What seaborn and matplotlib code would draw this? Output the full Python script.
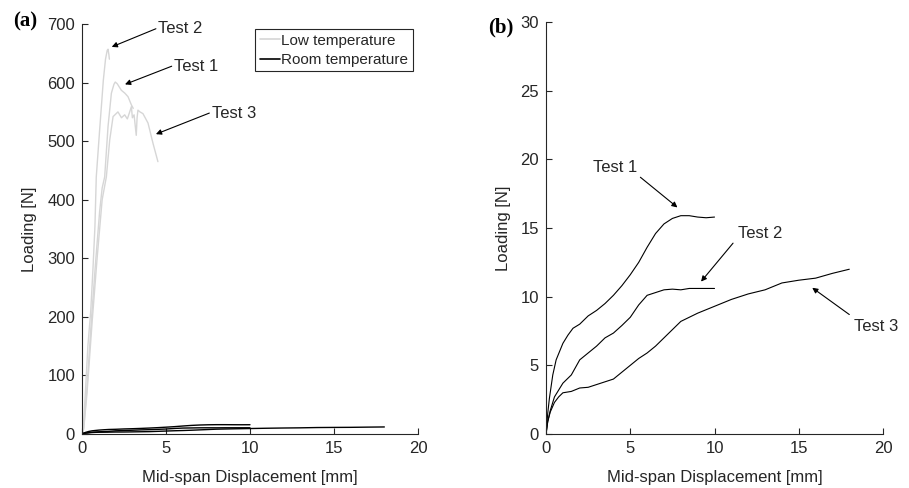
import numpy as np
import pandas as pd
import matplotlib
matplotlib.use("Agg")
import matplotlib.pyplot as plt
import seaborn as sns
from matplotlib.lines import Line2D

# Room temperature tests (displacement mm, load N)
room_t1_x = [0, 0.1, 0.2, 0.4, 0.6, 0.8, 1.0, 1.3, 1.6, 2.0, 2.5, 3.0, 3.5, 4.0, 4.5, 5.0, 5.5,
             6.0, 6.5, 7.0, 7.5, 8.0, 8.5, 9.0, 9.5, 10.0]
room_t1_y = [0, 1.5, 2.6, 4.3, 5.4, 6.0, 6.6, 7.2, 7.7, 8.0, 8.6, 9.0, 9.5, 10.1, 10.8, 11.6, 12.5,
             13.6, 14.6, 15.3, 15.7, 15.9, 15.9, 15.8, 15.75, 15.8]
room_t2_x = [0, 0.1, 0.25, 0.5, 0.75, 1.0, 1.5, 2.0, 2.5, 3.0, 3.5, 4.0, 4.5, 5.0, 5.5, 6.0, 6.5,
             7.0, 7.5, 8.0, 8.5, 9.0, 9.5, 10.0]
room_t2_y = [0, 0.9, 1.7, 2.7, 3.2, 3.7, 4.3, 5.4, 5.9, 6.4, 7.0, 7.35, 7.9, 8.5, 9.4, 10.1, 10.3,
             10.5, 10.55, 10.5, 10.6, 10.6, 10.6, 10.6]
room_t3_x = [0, 0.1, 0.25, 0.5, 0.75, 1.0, 1.5, 2.0, 2.5, 3.0, 3.5, 4.0, 4.5, 5.0, 5.5, 6.0, 6.5,
             7.0, 7.5, 8.0, 9.0, 10.0, 11.0, 12.0, 13.0, 14.0, 15.0, 16.0, 17.0, 18.0]
room_t3_y = [0, 0.9, 1.6, 2.3, 2.7, 3.0, 3.1, 3.35, 3.4, 3.6, 3.8, 4.0, 4.5, 5.0, 5.5, 5.9, 6.4,
             7.0, 7.6, 8.2, 8.8, 9.3, 9.8, 10.2, 10.5, 11.0, 11.2, 11.35, 11.7, 12.0]

# Low temperature tests
low_t1_x = [0, 0.1, 0.3, 0.55, 0.8, 1.05, 1.2, 1.35, 1.55, 1.75, 1.9, 1.98, 2.1, 2.34, 2.55, 2.74, 2.94, 3.05]
low_t1_y = [0, 10, 80, 190, 290, 380, 420, 439, 525, 582, 597, 601, 598, 587, 582, 576, 562, 556]
low_t2_x = [0, 0.08, 0.2, 0.35, 0.52, 0.65, 0.77, 0.85, 1.05, 1.27, 1.4, 1.5, 1.55, 1.6, 1.63]
low_t2_y = [0, 12, 70, 150, 210, 280, 354, 439, 519, 604, 640, 655, 657, 648, 640]
low_t3_x = [0, 0.1, 0.3, 0.6, 0.9, 1.2, 1.45, 1.65, 1.85, 2.14, 2.35, 2.54, 2.7, 2.84, 2.94, 3.0,
            3.1, 3.23, 3.28, 3.33, 3.45, 3.63, 3.93, 4.23, 4.52]
low_t3_y = [0, 8, 70, 190, 300, 400, 439, 502, 542, 550, 540, 545, 538, 550, 559, 540,
            545, 510, 540, 553, 550, 547, 531, 496, 465]

room = [(room_t1_x, room_t1_y), (room_t2_x, room_t2_y), (room_t3_x, room_t3_y)]
low = [(low_t1_x, low_t1_y), (low_t2_x, low_t2_y), (low_t3_x, low_t3_y)]

ink = "#262626"
gray = "#d6d6d6"
fs = 12

sns.set_theme(style="ticks")
plt.rcParams["font.family"] = ["Liberation Sans", "DejaVu Sans"]
plt.rcParams.update({
    "axes.edgecolor": ink, "text.color": ink, "axes.labelcolor": ink,
    "xtick.color": ink, "ytick.color": ink,
    "xtick.direction": "in", "ytick.direction": "in",
    "xtick.major.size": 4, "ytick.major.size": 4,
    "xtick.major.width": 0.8, "ytick.major.width": 0.8,
    "axes.linewidth": 0.8,
})

fig = plt.figure(figsize=(9.09, 4.88), dpi=100)
ax1 = fig.add_axes([0.0902, 0.1107, 0.3696, 0.840])
ax2 = fig.add_axes([0.6007, 0.1107, 0.3707, 0.844])

for xs, ys in low:
    sns.lineplot(x=xs, y=ys, ax=ax1, color=gray, lw=1.0, sort=False, estimator=None)
for xs, ys in room:
    sns.lineplot(x=xs, y=ys, ax=ax1, color="black", lw=1.0, sort=False, estimator=None)
for xs, ys in room:
    sns.lineplot(x=xs, y=ys, ax=ax2, color="black", lw=0.8, sort=False, estimator=None)

ax1.set_xlim(0, 20)
ax1.set_ylim(0, 700)
ax1.set_yticks(range(0, 701, 100))
ax2.set_xlim(0, 20)
ax2.set_ylim(0, 30)
ax2.set_yticks(range(0, 31, 5))
for ax in (ax1, ax2):
    ax.set_xticks(range(0, 21, 5))
    sns.despine(ax=ax)
    ax.spines["bottom"].set_bounds(0, 20)
    ax.tick_params(labelsize=fs, pad=5)
    ax.set_xlabel("Mid-span Displacement [mm]", fontsize=fs, labelpad=10)
    ax.set_ylabel("Loading [N]", fontsize=fs, labelpad=7)

arrow = dict(arrowstyle="-|>", color="black", lw=0.8, mutation_scale=8, shrinkA=0, shrinkB=0)

# panel (a) annotations
for label, tx, ty, tail, head in [
    ("Test 2", 4.55, 692, (4.4, 692), (1.77, 661)),
    ("Test 1", 5.5, 627, (5.34, 628), (2.56, 597)),
    ("Test 3", 7.75, 547, (7.58, 548), (4.4, 512)),
]:
    ax1.annotate("", xy=head, xytext=tail, arrowprops=arrow)
    ax1.text(tx, ty, label, fontsize=fs, ha="left", va="center")

# panel (b) annotations
ax2.annotate("", xy=(7.8, 16.5), xytext=(5.6, 18.7), arrowprops=arrow)
ax2.text(4.1, 19.4, "Test 1", fontsize=fs, ha="center", va="center")
ax2.annotate("", xy=(9.2, 11.1), xytext=(11.1, 13.9), arrowprops=arrow)
ax2.text(12.7, 14.6, "Test 2", fontsize=fs, ha="center", va="center")
ax2.annotate("", xy=(15.8, 10.65), xytext=(18.0, 8.7), arrowprops=arrow)
ax2.text(19.6, 7.8, "Test 3", fontsize=fs, ha="center", va="center")

handles = [Line2D([], [], color=gray, lw=1.2), Line2D([], [], color="black", lw=1.2)]
leg = ax1.legend(handles, ["Low temperature", "Room temperature"], loc="upper right",
                 bbox_to_anchor=(0.985, 0.988), borderaxespad=0, fontsize=11,
                 handlelength=1.3, handletextpad=0.1, borderpad=0.3, labelspacing=0.35,
                 fancybox=False, framealpha=1)
leg.get_frame().set_edgecolor(ink)
leg.get_frame().set_linewidth(0.8)

fig.text(25 / 909, 1 - 21.5 / 488, "(a)", fontsize=15, fontweight="bold",
         family="Liberation Serif", ha="center", va="center", color="black")
fig.text(501 / 909, 1 - 27.5 / 488, "(b)", fontsize=15, fontweight="bold",
         family="Liberation Serif", ha="center", va="center", color="black")

fig.savefig("out.png", dpi=100)
